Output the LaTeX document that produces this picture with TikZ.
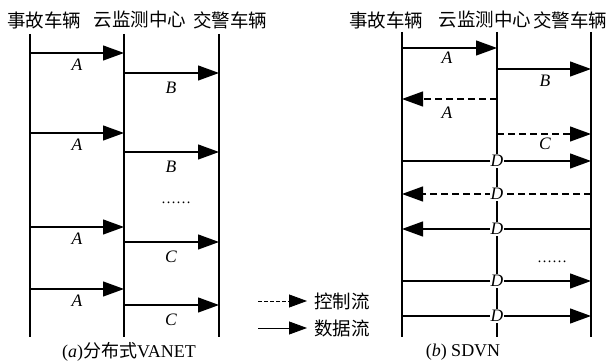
\documentclass[tikz,border=0pt]{standalone}
\usepackage{fontspec}
\setmainfont{Liberation Serif}
\newfontfamily\cjk{Noto Sans CJK SC}
\usetikzlibrary{arrows.meta}
\begin{document}
\begin{tikzpicture}[x=1pt,y=-1pt,
 lane/.style={line width=1.2pt},
 flow/.style={line width=1.2pt,-{Triangle[length=21pt,width=15pt]}},
 ctrl/.style={flow,dash pattern=on 7pt off 4pt},
 lbl/.style={font=\fontsize{17.5}{17.5}\selectfont\itshape,inner sep=0pt},
 dlbl/.style={font=\fontsize{17.5}{17.5}\selectfont\itshape,fill=white,inner sep=1pt},
 hdr/.style={font=\fontsize{18.5}{19}\selectfont\cjk,inner sep=0pt},
 captext/.style={font=\fontsize{18}{19}\selectfont,inner sep=0pt}]
\useasboundingbox (0,0) rectangle (608,363);
% ---------- left panel ----------
\node[hdr] (h1) at (44,20) {事故车辆};
\node[hdr] (h2) at (140,20) {云监测中心};
\node[hdr] (h3) at (230,20) {交警车辆};
\coordinate (L1t) at (30,34); \coordinate (L1b) at (30,337);
\coordinate (L2t) at (124,34); \coordinate (L2b) at (124,337);
\coordinate (L3t) at (219,34); \coordinate (L3b) at (219,337);
\draw[lane] (L1t) -- (L1b);
\draw[lane] (L2t) -- (L2b);
\draw[lane] (L3t) -- (L3b);
\foreach \y/\n in {53/1,133/2,227/3,289/4}{
  \coordinate (la\n) at (30,\y); \coordinate (lb\n) at (124,\y);
  \draw[flow] (la\n) -- (lb\n);
  \node[lbl] (lA\n) at (77,\y+12) {A};
}
\foreach \y/\n/\t in {73/1/B,152/2/B,242/3/C,305/4/C}{
  \coordinate (lc\n) at (124,\y); \coordinate (ld\n) at (219,\y);
  \draw[flow] (lc\n) -- (ld\n);
  \node[lbl] (lB\n) at (171,\y+15) {\t};
}
\node[font=\fontsize{15}{15}\selectfont,inner sep=0pt] (ldots) at (176,203) {……};
\node[captext] (capa) at (129,352) {(\textit{a}){\cjk 分布式}VANET};
% ---------- legend ----------
\coordinate (g1a) at (258,301); \coordinate (g1b) at (307,301);
\coordinate (g2a) at (258,328); \coordinate (g2b) at (307,328);
\draw[line width=0.8pt,dash pattern=on 4pt off 2pt,-{Triangle[length=18pt,width=13pt]}] (g1a) -- (g1b);
\draw[line width=0.8pt,-{Triangle[length=18pt,width=13pt]}] (g2a) -- (g2b);
\node[hdr,anchor=west] (t1) at (314,301) {控制流};
\node[hdr,anchor=west] (t2) at (314,328) {数据流};
% ---------- right panel ----------
\node[hdr] (r1) at (386,20) {事故车辆};
\node[hdr] (r2) at (485,20) {云监测中心};
\node[hdr] (r3) at (570,20) {交警车辆};
\coordinate (R1t) at (402,32); \coordinate (R1b) at (402,337);
\coordinate (R2t) at (497,32); \coordinate (R2b) at (497,337);
\coordinate (R3t) at (591,32); \coordinate (R3b) at (591,337);
\draw[lane] (R1t) -- (R1b);
\draw[lane] (R2t) -- (R2b);
\draw[lane] (R3t) -- (R3b);
\coordinate (ra1) at (402,48); \coordinate (rb1) at (497,48);
\draw[flow] (ra1) -- (rb1);
\node[lbl] (rA1) at (447,58) {A};
\coordinate (ra2) at (497,69); \coordinate (rb2) at (591,69);
\draw[flow] (ra2) -- (rb2);
\node[lbl] (rB1) at (545,81) {B};
\coordinate (ra3) at (497,99); \coordinate (rb3) at (402,99);
\draw[ctrl] (ra3) -- (rb3);
\node[lbl] (rA2) at (447,113) {A};
\coordinate (ra4) at (497,134); \coordinate (rb4) at (591,134);
\draw[ctrl] (ra4) -- (rb4);
\node[lbl] (rC1) at (545,144) {C};
\foreach \y/\n/\s/\e/\k in {161/1/402/591/flow,194/2/591/402/ctrl,229/3/591/402/flow,281/4/402/591/flow,316/5/402/591/flow}{
  \coordinate (ds\n) at (\s,\y); \coordinate (de\n) at (\e,\y);
  \draw[\k] (ds\n) -- (de\n);
  \node[dlbl] (D\n) at (497,\y) {D};
}
\node[font=\fontsize{15}{15}\selectfont,inner sep=0pt] (rdots) at (552,262) {……};
\node[captext] (capb) at (463,352) {(\textit{b}) SDVN};
\end{tikzpicture}
\end{document}
